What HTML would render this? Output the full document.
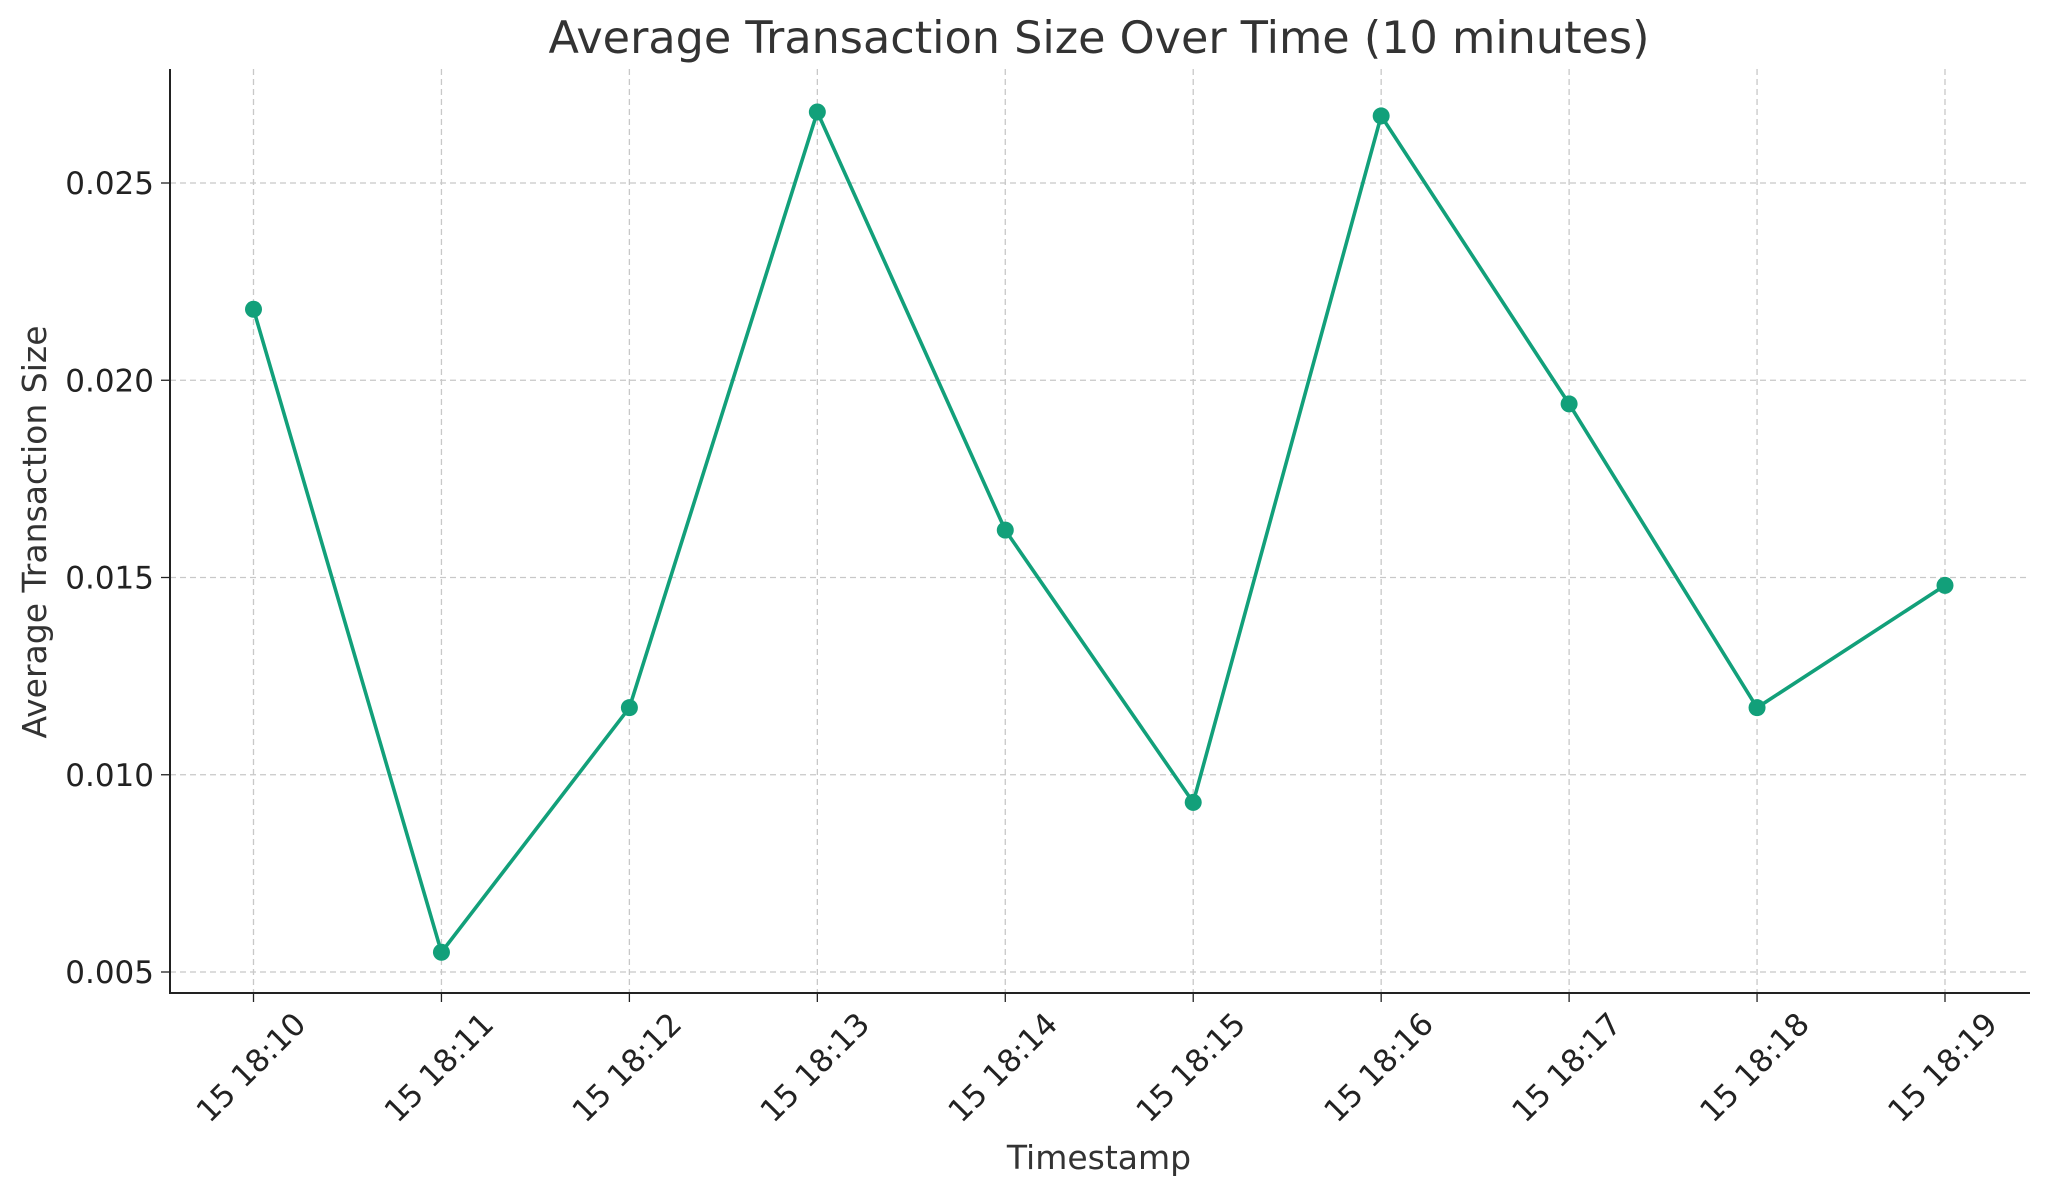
<!DOCTYPE html>
<html><head><meta charset="utf-8"><style>body{margin:0;background:#fff}svg{display:block}text{font-family:"DejaVu Sans","Liberation Sans",sans-serif;fill:#333}</style></head>
<body>
<svg id="chart" width="2049" height="1197" viewBox="0 0 2049 1197" xmlns="http://www.w3.org/2000/svg">
<text x="1099" y="53" font-size="44.5" text-anchor="middle">Average Transaction Size Over Time (10 minutes)</text>
<g id="grid"></g><g id="axes"></g><g id="series"></g>
<text x="1099" y="1169" font-size="33" text-anchor="middle">Timestamp</text>
<text transform="translate(46,532) rotate(-90)" font-size="33" text-anchor="middle">Average Transaction Size</text>
</svg>
<script>
const categories=["15 18:10","15 18:11","15 18:12","15 18:13","15 18:14","15 18:15","15 18:16","15 18:17","15 18:18","15 18:19"];
const values=[0.0218,0.0055,0.0117,0.0268,0.0162,0.0093,0.0267,0.0194,0.0117,0.0148];
const yTicks=[0.005,0.010,0.015,0.020,0.025];
const yTickLabels=["0.005","0.010","0.015","0.020","0.025"];
const NS="http://www.w3.org/2000/svg";
const L=170,R=2030,T=69,B=993;
const x0=253.5,dx=(1945-253.5)/9;
function xs(i){return x0+i*dx;}
function ys(v){return 972-(v-0.005)/0.005*197.25;}
function mk(p,t,a){const e=document.createElementNS(NS,t);for(const k in a)e.setAttribute(k,a[k]);p.appendChild(e);return e;}
const grid=document.getElementById('grid'),axes=document.getElementById('axes'),ser=document.getElementById('series');
categories.forEach((c,i)=>{
 const x=xs(i);
 const g=mk(grid,'line',{x1:x,x2:x,y1:T,y2:B,stroke:'#c8c8c8','stroke-width':1.3,'stroke-dasharray':'6,4'});
 
 
 const tk=mk(axes,'line',{x1:x,x2:x,y1:B,y2:B+9,stroke:'#222','stroke-width':1.3});
 
 
 const t=mk(axes,'text',{transform:`translate(${x-1},${B+76}) rotate(-45)`,'font-size':31,'text-anchor':'middle','dominant-baseline':'middle',style:'fill:#222'});
 t.textContent=c;
 
 
});
yTicks.forEach((v,i)=>{
 const y=ys(v);
 const g=mk(grid,'line',{x1:L,x2:R,y1:y,y2:y,stroke:'#c8c8c8','stroke-width':1.3,'stroke-dasharray':'6,4'});
 
 
 const tk=mk(axes,'line',{x1:L-9,x2:L,y1:y,y2:y,stroke:'#222','stroke-width':1.3});
 
 
 const t=mk(axes,'text',{x:L-16,y:y+11,'font-size':31,'text-anchor':'end',style:'fill:#222'});
 t.textContent=yTickLabels[i];
 
 
});
const ax=mk(axes,'path',{d:`M${L},${T}V${B}H${R}`,fill:'none',stroke:'#222','stroke-width':2});


const ln=mk(ser,'polyline',{points:values.map((v,i)=>xs(i)+','+ys(v)).join(' '),fill:'none',stroke:'#12a07a','stroke-width':3.6,'stroke-linejoin':'round'});


values.forEach((v,i)=>{
 const c=mk(ser,'circle',{cx:xs(i),cy:ys(v),r:8.5,fill:'#12a07a'});
 
 
});
</script>
</body></html>
